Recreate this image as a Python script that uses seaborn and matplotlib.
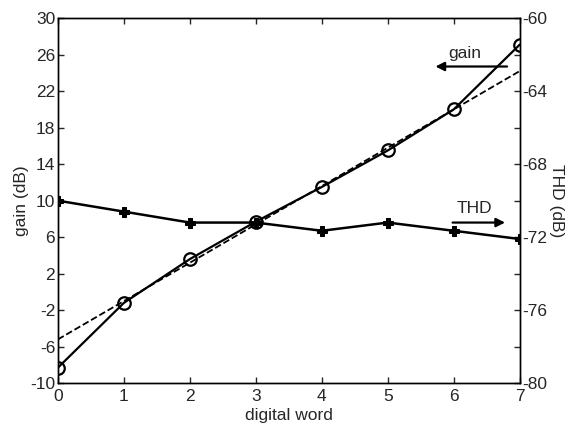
import matplotlib
matplotlib.use("Agg")
import matplotlib.pyplot as plt
import seaborn as sns
import pandas as pd
from matplotlib.ticker import MultipleLocator

sns.set_style("ticks")
plt.rcParams['font.family'] = ['Liberation Sans', 'DejaVu Sans']
plt.rcParams['axes.unicode_minus'] = False
plt.rcParams['xtick.direction'] = 'in'
plt.rcParams['ytick.direction'] = 'in'

digital_word = [0, 1, 2, 3, 4, 5, 6, 7]
gain_db = [-8.3, -1.2, 3.6, 7.7, 11.5, 15.5, 20.0, 27.1]
thd_db = [-70.0, -70.6, -71.2, -71.2, -71.65, -71.2, -71.65, -72.1]
ideal_x = [0, 7]
ideal_gain = [-5.2, 24.2]

df = pd.DataFrame({"x": digital_word, "gain": gain_db, "thd": thd_db})
df_ideal = pd.DataFrame({"x": ideal_x, "gain": ideal_gain})

fs = 12.5
fig = plt.figure(figsize=(5.68, 4.32), dpi=100)
ax = fig.add_axes([0.102, 0.113, 0.813, 0.845])
ax2 = ax.twinx()

sns.lineplot(data=df_ideal, x="x", y="gain", ax=ax, color="black", lw=1.3,
             linestyle="--")
sns.lineplot(data=df, x="x", y="gain", ax=ax, color="black", lw=1.6,
             marker="o", markersize=9, markerfacecolor="none",
             markeredgecolor="black", markeredgewidth=1.6)
sns.lineplot(data=df, x="x", y="thd", ax=ax2, color="black", lw=1.8,
             marker="P", markersize=7, markerfacecolor="black",
             markeredgecolor="black")

ax.set_xlim(0, 7)
ax.set_ylim(-10, 30)
ax2.set_ylim(-80, -60)
ax.set_yticks([-10, -6, -2, 2, 6, 10, 14, 18, 22, 26, 30])
ax2.set_yticks([-80, -76, -72, -68, -64, -60])
ax2.yaxis.set_minor_locator(MultipleLocator(2))
ax.set_xticks(digital_word)

ax.tick_params(axis='y', labelsize=fs, length=4, width=1,
               direction='in', pad=2)
ax.tick_params(axis='x', labelsize=fs, length=4, width=1, top=True,
               direction='in', pad=4)
ax2.tick_params(axis='y', which='both', labelsize=fs, length=4, width=1,
                direction='in', pad=2)

ax.set_xlabel("digital word", fontsize=fs, labelpad=3)
ax.set_ylabel("gain (dB)", fontsize=fs, labelpad=1)
ax2.set_ylabel("THD (dB)", fontsize=fs, rotation=270, labelpad=12)

for a in (ax, ax2):
    for s in a.spines.values():
        s.set_linewidth(1.0)
        s.set_color("black")

ax.annotate("", xy=(5.68, 24.7), xytext=(6.85, 24.7),
            arrowprops=dict(arrowstyle="-|>", color="black", lw=1.6,
                            mutation_scale=13))
ax.text(6.17, 26.1, "gain", fontsize=fs, ha="center", va="center")
ax.annotate("", xy=(6.82, 7.6), xytext=(5.94, 7.6),
            arrowprops=dict(arrowstyle="-|>", color="black", lw=1.6,
                            mutation_scale=13))
ax.text(6.32, 9.1, "THD", fontsize=fs, ha="center", va="center")

fig.savefig("out.png", dpi=100)
